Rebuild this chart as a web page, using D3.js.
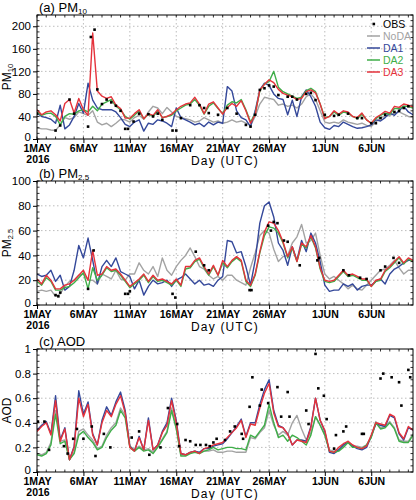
<!DOCTYPE html>
<html><head><meta charset="utf-8">
<script src="https://cdn.jsdelivr.net/npm/d3@7"></script>
<style>
html,body{margin:0;padding:0;background:#fff;}
svg{display:block;font-family:"Liberation Sans",Arial,Helvetica,sans-serif;}
</style></head><body>
<svg id="chart" width="416" height="500"></svg>
<script>
// ---------- time axis ----------
const startDate = "2016-05-01T00:00:00Z";
const endDate = "2016-06-10T12:00:00Z";
const stepHours = 12;
const xTickDates = ["2016-05-01","2016-05-06","2016-05-11","2016-05-16","2016-05-21","2016-05-26","2016-06-01","2016-06-06"];
const xTickLabels = ["1MAY","6MAY","11MAY","16MAY","21MAY","26MAY","1JUN","6JUN"];
const yearLabel = "2016";
const xAxisTitle = "Day (UTC)";

const seriesNames = ["NoDA","DA1","DA2","DA3"];
const obsName = "OBS";

// ---------- (a) PM10 ----------
const pm10_NoDA = [20,18,18,16,15,25,38,35,38,48, 45,42,50,30,25,28,22,28,35,34, 30,38,42,35,48,58,55,45,56,48,
  40,38,36,34,30,32,38,34,30,32, 28,30,34,30,32,28,24,40,62,74, 72,70,60,62,58,60,55,62,75,80,
  70,50,30,28,30,28,34,30,28,26, 28,24,22,30,38,40,42,46,48,44, 40,38];
const pm10_DA1 = [46,40,38,35,28,60,18,25,40,63, 46,99,69,55,52,52,52,48,38,26, 22,30,34,14,28,26,34,32,28,22,
  55,38,34,30,25,28,22,30,25,30, 28,93,85,50,38,34,22,50,87,99, 95,80,72,70,43,69,40,75,87,75,
  58,30,20,17,24,22,30,26,22,19, 20,22,25,34,32,38,46,42,50,58, 48,43];
const pm10_DA2 = [48,42,45,46,40,25,40,45,44,50, 52,48,58,50,62,66,70,58,52,40, 35,42,50,36,44,40,50,38,40,42,
  50,55,60,62,70,60,44,58,64,54, 45,60,66,64,70,52,30,45,85,98, 102,120,92,84,80,76,72,74,86,90,
  84,62,38,40,48,42,48,46,40,36, 44,34,28,36,42,46,44,54,54,58, 58,55];
const pm10_DA3 = [52,43,48,50,43,32,63,70,46,72, 52,42,188,85,76,72,75,60,54,37, 37,45,52,36,45,42,52,38,40,44,
  52,58,62,64,74,62,45,62,66,55, 44,56,63,58,68,50,28,43,87,97, 105,100,88,81,78,75,70,72,84,87,
  82,62,36,40,50,44,50,48,40,38, 46,34,28,38,43,49,46,58,56,62, 60,57];
const pm10_obsDays = [0,2,2.5,3.5,4,5.5,5.8,6.2,6.5,7,7.5,8,8.5,9,9.5,9.8,10.4,11,12,12.5,13,13.5,14.6,15,15.5,
  16.5,17.5,18,18.5,19.5,20.5,21.5,22.5,23,23.5,24,24.5,25,25.5,26,27,27.5,28,29,29.5,30,31,32,32.5,33.5,
  34.5,35,36,36.5,37,37.5,38.5,39,39.5,40];
const pm10_obs = [45,15,24,70,45,22,181,194,88,62,70,65,59,50,18,18,31,45,44,40,45,34,15,15,37,
  60,60,55,46,43,55,45,25,22,43,87,90,95,93,78,75,75,70,80,82,69,43,41,43,45,
  37,37,28,28,37,43,48,50,55,58];
const pm10_yTicks = [0,40,80,120,160,200];

// ---------- (b) PM2.5 ----------
const pm25_NoDA = [11,12,11,12,7,9,15,19,20,24, 25,20,20,17,25,23,21,28,21,20, 25,25,34,28,25,31,23,38,28,24,
  31,36,40,46,39,31,29,24,21,23, 20,24,24,20,18,16,30,42,56,60, 58,45,35,39,40,50,55,65,50,52,
  58,40,25,21,23,20,17,13,16,13, 12,16,20,24,28,29,32,36,30,25, 28,28];
const pm25_DA1 = [25,23,24,28,19,24,12,15,28,48, 38,54,36,17,31,36,31,38,27,25, 23,13,20,8,15,20,17,18,20,15,
  20,22,25,21,17,20,16,17,15,20, 23,52,51,42,43,31,16,36,66,80, 83,71,50,44,32,47,36,52,43,58,
  50,35,16,11,12,12,17,15,17,12, 15,16,16,19,21,17,25,29,31,34, 36,36];
const pm25_DA2 = [19,16,22,19,12,12,14,15,18,22, 26,13,30,20,24,30,27,28,24,19, 14,17,20,24,18,23,19,20,18,16,
  20,15,29,30,35,37,30,24,31,24, 34,30,35,38,35,19,15,24,42,56, 63,62,58,50,38,46,35,49,46,55,
  46,29,19,18,19,23,27,23,24,22, 20,20,15,19,20,27,30,34,38,33, 37,35];
const pm25_DA3 = [21,17,24,20,13,13,16,17,20,24, 28,20,44,24,25,31,28,29,25,20, 15,18,21,25,19,24,20,21,19,17,
  21,16,31,31,36,38,31,25,32,24, 36,31,36,39,36,20,16,25,43,59, 67,66,60,51,39,47,35,50,47,56,
  47,30,20,19,20,24,28,24,25,23, 21,21,15,20,21,28,31,35,39,34, 38,36];
const pm25_obsDays = [2,2.3,2.5,5.5,6.1,9.5,9.8,10,14.6,14.9,17.1,18,18.5,22.9,23.1,24.9,25.2,25.5,25.9,26.6,
  27,28.3,30.2,30.4,33,33.6,34.8,35.5,37,37.5,38.4,39];
const pm25_obs = [8,7,10,13,44,9,9,11,9,6,43,32,28,12,12,64,60,67,66,52,
  51,32,36,38,28,24,22,21,28,31,38,34];
const pm25_yTicks = [0,20,40,60,80,100];

// ---------- (c) AOD ----------
const aod_NoDA = [0.15,0.14,0.16,0.24,0.50,0.25,0.26,0.10,0.16,0.33, 0.35,0.30,0.26,0.19,0.21,0.30,0.36,0.40,0.52,0.46,
  0.21,0.18,0.21,0.18,0.19,0.16,0.21,0.27,0.33,0.52, 0.36,0.14,0.14,0.16,0.17,0.16,0.17,0.17,0.18,0.16,
  0.16,0.17,0.17,0.16,0.16,0.16,0.28,0.27,0.32,0.36, 0.50,0.38,0.30,0.33,0.30,0.40,0.46,0.35,0.26,0.32,
  0.45,0.38,0.30,0.18,0.17,0.18,0.21,0.25,0.21,0.21, 0.20,0.22,0.29,0.41,0.36,0.37,0.41,0.36,0.26,0.25, 0.25,0.31];
const aod_DA1 = [0.34,0.38,0.41,0.31,0.62,0.26,0.36,0.10,0.21,0.66, 0.47,0.57,0.31,0.22,0.42,0.53,0.46,0.57,0.65,0.50,
  0.21,0.17,0.29,0.18,0.44,0.18,0.22,0.33,0.40,0.60, 0.42,0.15,0.14,0.16,0.17,0.16,0.19,0.19,0.21,0.22,
  0.23,0.27,0.32,0.37,0.43,0.29,0.40,0.40,0.55,0.67, 0.75,0.50,0.38,0.36,0.31,0.22,0.26,0.26,0.25,0.37,
  0.60,0.42,0.33,0.16,0.15,0.18,0.22,0.24,0.21,0.19, 0.18,0.20,0.29,0.39,0.38,0.37,0.46,0.44,0.31,0.26, 0.36,0.34];
const aod_DA2 = [0.14,0.13,0.15,0.22,0.47,0.23,0.25,0.10,0.15,0.30, 0.33,0.28,0.24,0.18,0.20,0.28,0.34,0.38,0.50,0.44,
  0.20,0.17,0.20,0.17,0.18,0.15,0.20,0.26,0.32,0.50, 0.35,0.13,0.13,0.15,0.16,0.15,0.17,0.18,0.20,0.18,
  0.19,0.20,0.20,0.19,0.19,0.18,0.30,0.28,0.33,0.38, 0.55,0.40,0.28,0.30,0.25,0.30,0.28,0.25,0.22,0.30,
  0.45,0.38,0.30,0.17,0.16,0.17,0.20,0.24,0.20,0.20, 0.19,0.22,0.28,0.40,0.35,0.36,0.40,0.35,0.25,0.24, 0.24,0.30];
const aod_DA3 = [0.33,0.37,0.40,0.30,0.58,0.25,0.35,0.10,0.20,0.60, 0.45,0.55,0.30,0.22,0.40,0.50,0.45,0.55,0.62,0.48,
  0.20,0.17,0.28,0.18,0.42,0.18,0.22,0.32,0.38,0.58, 0.40,0.15,0.14,0.16,0.17,0.15,0.19,0.20,0.22,0.23,
  0.24,0.28,0.32,0.36,0.42,0.28,0.39,0.38,0.52,0.64, 0.72,0.48,0.37,0.36,0.31,0.22,0.26,0.25,0.24,0.36,
  0.60,0.42,0.34,0.17,0.16,0.20,0.23,0.25,0.22,0.20, 0.19,0.21,0.30,0.40,0.39,0.38,0.47,0.45,0.32,0.27, 0.37,0.34];
const aod_obsDays = [0.1,0.8,1.3,2.9,3.3,3.9,4.3,5.0,5.9,6.3,7.2,7.9,10.2,11.0,12.1,13.3,14.1,15.1,15.3,16.0,
  16.5,17.1,17.6,18.2,18.6,19.0,19.35,20.25,20.8,21.3,22.05,22.2,22.9,23.2,24.0,24.2,24.9,25.9,26.3,27.0,
  27.2,29.0,29.25,30.0,30.3,30.9,31.2,32.0,32.2,33.0,33.3,35.0,35.2,37.0,37.3,38.2,39.0,39.25,40.0,40.2];
const aod_obs = [0.41,0.41,0.18,0.21,0.15,0.27,0.35,0.27,0.37,0.13,0.31,0.20,0.28,0.33,0.14,0.20,0.52,0.39,0.21,0.26,
  0.25,0.22,0.22,0.22,0.21,0.24,0.27,0.26,0.33,0.37,0.31,0.27,0.53,0.77,0.54,0.67,0.56,0.69,0.45,0.65,
  0.45,0.50,0.39,0.96,0.68,0.62,0.43,0.19,0.30,0.33,0.37,0.31,0.31,0.76,0.80,0.77,0.73,0.54,0.83,0.77];
const aod_yTicks = [0,0.2,0.4,0.6,0.8,1];

// ---------- styles ----------
const colors = {NoDA:"#a3a3a3", DA1:"#34489a", DA2:"#3fae49", DA3:"#e5323b", OBS:"#000"};
const FONT = '"Liberation Sans",Arial,Helvetica,sans-serif';
const NARROW = '"Liberation Sans Narrow","Liberation Sans",Arial,sans-serif';

const svg = d3.select("#chart");
const t0 = new Date(startDate), t1 = new Date(endDate);
const DAY = 86400000;
const x = d3.scaleUtc().domain([t0, t1]).range([37, 413]);
const timeAt = i => new Date(t0.getTime() + i * stepHours * 3600000);
const dayAt = d => new Date(t0.getTime() + d * DAY);

const panels = [
  {tag:"(a) PM", sub:"10", ylab:"PM", ysub:"10", top:15, bottom:139, ymax:220, ticks:pm10_yTicks, minor:10,
   series:{NoDA:pm10_NoDA, DA1:pm10_DA1, DA2:pm10_DA2, DA3:pm10_DA3}, obsDays:pm10_obsDays, obs:pm10_obs, legend:true},
  {tag:"(b) PM", sub:"2.5", ylab:"PM", ysub:"2.5", top:181, bottom:305, ymax:100, ticks:pm25_yTicks, minor:5,
   series:{NoDA:pm25_NoDA, DA1:pm25_DA1, DA2:pm25_DA2, DA3:pm25_DA3}, obsDays:pm25_obsDays, obs:pm25_obs},
  {tag:"(c) AOD", sub:"", ylab:"AOD", ysub:"", top:349, bottom:472, ymax:1, ticks:aod_yTicks, minor:0.05,
   series:{NoDA:aod_NoDA, DA1:aod_DA1, DA2:aod_DA2, DA3:aod_DA3}, obsDays:aod_obsDays, obs:aod_obs}
];

const xMajor = xTickDates.map(s => new Date(s + "T00:00:00Z"));
const xMinor = d3.utcDay.range(t0, new Date(t1.getTime() + 1));

panels.forEach(p => {
  const y = d3.scaleLinear().domain([0, p.ymax]).range([p.bottom, p.top]);
  const g = svg.append("g");
  const L = x.range()[0], R = x.range()[1];

  // grid
  g.append("g").selectAll("line").data(xMajor.slice(1)).join("line")
    .attr("x1", d => x(d)).attr("x2", d => x(d)).attr("y1", p.top).attr("y2", p.bottom)
    .attr("stroke", "#bdbdbd").attr("stroke-width", 1).attr("stroke-dasharray", "1.5,2.5");
  g.append("g").selectAll("line").data(p.ticks.filter(v => v > 0 && v < p.ymax)).join("line")
    .attr("x1", L).attr("x2", R).attr("y1", d => y(d)).attr("y2", d => y(d))
    .attr("stroke", "#bdbdbd").attr("stroke-width", 1).attr("stroke-dasharray", "1.5,2.5");

  // series
  const clip = "clip" + p.top;
  svg.append("clipPath").attr("id", clip).append("rect")
    .attr("x", L).attr("y", p.top).attr("width", R - L).attr("height", p.bottom - p.top);
  const line = d3.line().x((d, i) => x(timeAt(i))).y(d => y(d));
  const sg = g.append("g").attr("clip-path", `url(#${clip})`);
  seriesNames.forEach(n => {
    sg.append("path").datum(p.series[n]).attr("d", line)
      .attr("fill", "none").attr("stroke", colors[n]).attr("stroke-width", 1.4).attr("stroke-linejoin", "round");
  });
  sg.append("g").selectAll("rect").data(p.obs).join("rect")
    .attr("x", (d, i) => x(dayAt(p.obsDays[i])) - 1.3).attr("y", d => y(d) - 1.3)
    .attr("width", 2.6).attr("height", 2.6).attr("fill", colors.OBS);

  // minor ticks (inward) on all sides
  const minorY = d3.range(0, p.ymax + p.minor / 2, p.minor);
  const tk = g.append("g").attr("stroke", "#000").attr("stroke-width", 0.8);
  xMinor.forEach(d => {
    tk.append("line").attr("x1", x(d)).attr("x2", x(d)).attr("y1", p.bottom).attr("y2", p.bottom - 2.5);
    tk.append("line").attr("x1", x(d)).attr("x2", x(d)).attr("y1", p.top).attr("y2", p.top + 2.5);
  });
  minorY.forEach(v => {
    tk.append("line").attr("x1", L).attr("x2", L + 2.5).attr("y1", y(v)).attr("y2", y(v));
    tk.append("line").attr("x1", R).attr("x2", R - 2.5).attr("y1", y(v)).attr("y2", y(v));
  });

  // axes
  const ya = g.append("g").attr("transform", `translate(${L},0)`)
    .call(d3.axisLeft(y).tickValues(p.ticks).tickSize(4).tickPadding(2).tickFormat(d3.format("~g")));
  ya.select(".domain").remove();
  ya.selectAll("text").attr("font-family", FONT).attr("font-size", 11.5).attr("fill", "#000")
    .attr("dy", d => d === 0 ? "0.1em" : "0.32em");
  const xa = g.append("g").attr("transform", `translate(0,${p.bottom})`)
    .call(d3.axisBottom(x).tickValues(xMajor).tickSize(4).tickPadding(1.5).tickFormat((d, i) => xTickLabels[i]));
  xa.select(".domain").remove();
  xa.selectAll("text").attr("font-family", NARROW).attr("font-weight", "bold").attr("font-size", 10.5).attr("fill", "#000");

  // frame
  g.append("rect").attr("x", L).attr("y", p.top).attr("width", R - L).attr("height", p.bottom - p.top)
    .attr("fill", "none").attr("stroke", "#000").attr("stroke-width", 1);

  // year + axis title
  g.append("text").attr("x", L + 1).attr("y", p.bottom + 24).attr("font-family", NARROW).attr("font-weight", "bold")
    .attr("font-size", 10.5).attr("text-anchor", "middle").text(yearLabel);
  g.append("text").attr("x", (L + R) / 2).attr("y", p.bottom + 26).attr("font-family", FONT)
    .attr("font-size", 12).attr("letter-spacing", 1.2).attr("text-anchor", "middle").text(xAxisTitle);

  // panel title
  const tt = g.append("text").attr("x", 39).attr("y", p.top - 3.5).attr("font-family", FONT).attr("font-size", 13);
  tt.append("tspan").text(p.tag);
  if (p.sub) tt.append("tspan").attr("font-size", 8).attr("dy", 2).text(p.sub);

  // y label
  const yl = g.append("text").attr("transform", `translate(11,${(p.top + p.bottom) / 2}) rotate(-90)`)
    .attr("font-family", FONT).attr("font-size", 12).attr("text-anchor", "middle");
  yl.append("tspan").text(p.ylab);
  if (p.ysub) yl.append("tspan").attr("font-size", 7.5).attr("dy", 2).text(p.ysub);

  // legend
  if (p.legend) {
    const lg = g.append("g").attr("font-family", FONT).attr("font-size", 10.5);
    const items = [obsName].concat(seriesNames);
    items.forEach((n, i) => {
      const cy = 24 + i * 12;
      if (n === obsName) {
        lg.append("rect").attr("x", 372.5).attr("y", cy - 1.3).attr("width", 2.6).attr("height", 2.6).attr("fill", "#000");
      } else {
        lg.append("line").attr("x1", 367).attr("x2", 380).attr("y1", cy).attr("y2", cy)
          .attr("stroke", colors[n]).attr("stroke-width", 1.5);
      }
      lg.append("text").attr("x", 383).attr("y", cy + 3.8).attr("fill", colors[n]).text(n);
    });
  }
});
</script>
</body></html>
